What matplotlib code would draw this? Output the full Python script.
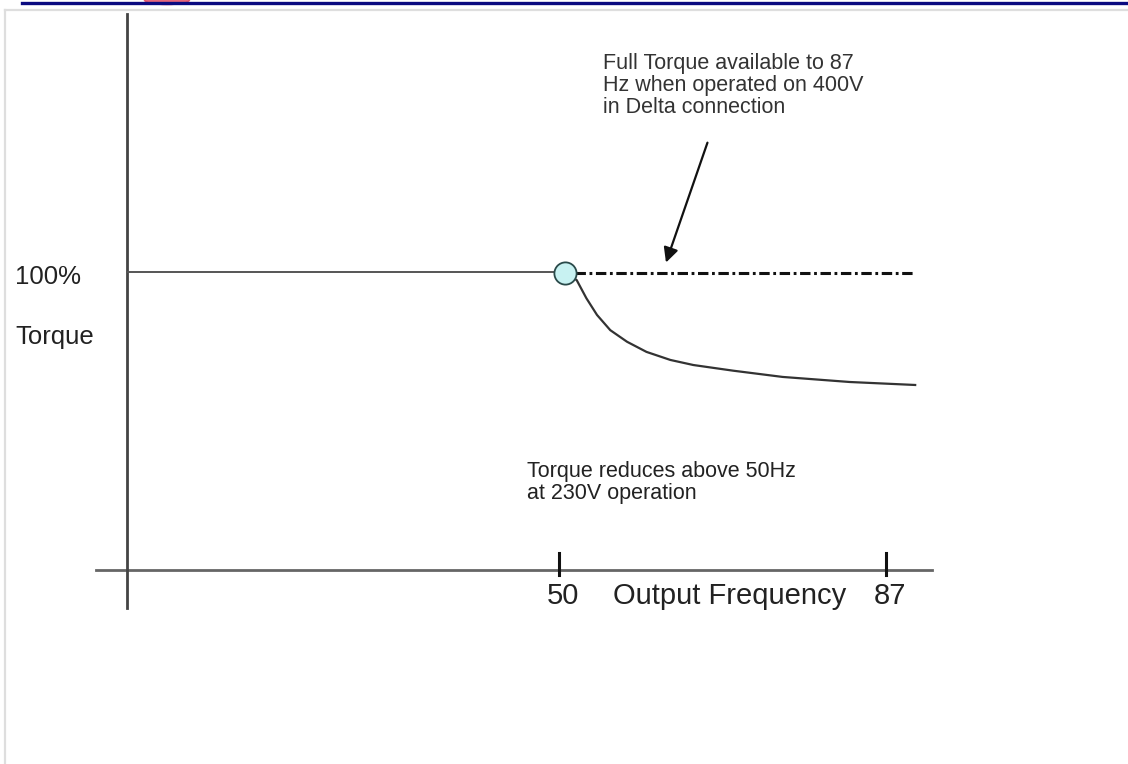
import matplotlib.pyplot as plt
from matplotlib.lines import Line2D
from matplotlib.patches import Ellipse

plt.rcParams["font.family"] = ["Liberation Sans", "DejaVu Sans"]
plt.rcParams["lines.scale_dashes"] = False

# ── Data (frequency in Hz, torque in %) ─────────────────
tick_freqs = [50, 87]
tick_labels = ["50", "87"]

const_freq = [1.1, 50.7]          # full torque up to base frequency
const_torque = [100, 100]

delta_freq = [51.8, 90.3]         # 400V delta: full torque continues
delta_torque = [99.7, 99.7]

weak_freq = [50.7, 52.0, 53.1, 54.3, 55.8, 57.7, 59.9, 62.6, 65.2, 67.8, 69.7, 75.3, 82.9, 90.3]
weak_torque = [99.7, 97.3, 91.2, 85.6, 80.5, 76.6, 73.2, 70.5, 68.8, 67.7, 66.9, 64.8, 63.1, 62.1]

knee_freq = [50.7]
knee_torque = [99.7]

axis_freq_range = [-2.4, 92.2]
axis_torque_range = [-12.8, 186.6]

# ── Figure ──────────────────────────────────────────────
fig = plt.figure(figsize=(11.28, 7.64), dpi=100)
ax = fig.add_axes([0, 0, 1, 1])
ax.set_xlim(-13.25, 114.38)
ax.set_ylim(-65.1, 191.3)
ax.axis("off")

# page decorations
fig.add_artist(Line2D([0.0195, 0.998], [0.9961, 0.9961], color="#0a0a80", lw=2.4))
fig.add_artist(Line2D([0.004, 1.0], [0.987, 0.987], color="#dedede", lw=1.6))
fig.add_artist(Line2D([0.0045, 0.0045], [0.0, 0.987], color="#dedede", lw=1.6))
fig.add_artist(Ellipse((0.148, 1.0), 0.04, 0.012, color="#e0405a", alpha=0.8))

# axes lines
ax.plot(axis_freq_range, [0, 0], color="#666666", lw=2)
ax.plot([const_freq[0], const_freq[0]], axis_torque_range, color="#444444", lw=2)
for f in tick_freqs:
    ax.plot([f, f], [-1.7, 5.7], color="#111111", lw=2.2)

# curves
ax.plot(const_freq, const_torque, color="#555555", lw=1.4)
ax.plot(delta_freq, delta_torque, color="#111111", lw=2.2,
        linestyle=(0, (7.5, 2.6, 2.0, 2.6)))
ax.plot(weak_freq, weak_torque, color="#333333", lw=1.6, solid_joinstyle="round")
ax.plot(knee_freq, knee_torque, "o", markersize=16, markerfacecolor="#c8f2f2",
        markeredgecolor="#2a4a4a", markeredgewidth=1.3, zorder=5)

# labels
for f, lab in zip(tick_freqs, tick_labels):
    ax.text(f + 0.4, -4.0, lab, ha="center", va="top", fontsize=21, color="#222222")
ax.text(56.1, -4.0, "Output Frequency", ha="left", va="top", fontsize=21, color="#222222")
ax.text(-11.55, 98.3, "100%", ha="left", va="center", fontsize=18.5, color="#222222")
ax.text(-11.55, 78.2, "Torque", ha="left", va="center", fontsize=18.5, color="#222222")

ax.text(55.0, 173.5, "Full Torque available to 87\nHz when operated on 400V\nin Delta connection",
        ha="left", va="top", fontsize=15.5, color="#333333", linespacing=1.05)
ax.text(46.4, 36.5, "Torque reduces above 50Hz\nat 230V operation",
        ha="left", va="top", fontsize=15.5, color="#222222", linespacing=1.05)

ax.annotate("", xy=(62.0, 102.3), xytext=(66.9, 144.3),
            arrowprops=dict(arrowstyle="-|>", lw=1.6, color="#111111", mutation_scale=22))

fig.savefig("out.png", dpi=100)
